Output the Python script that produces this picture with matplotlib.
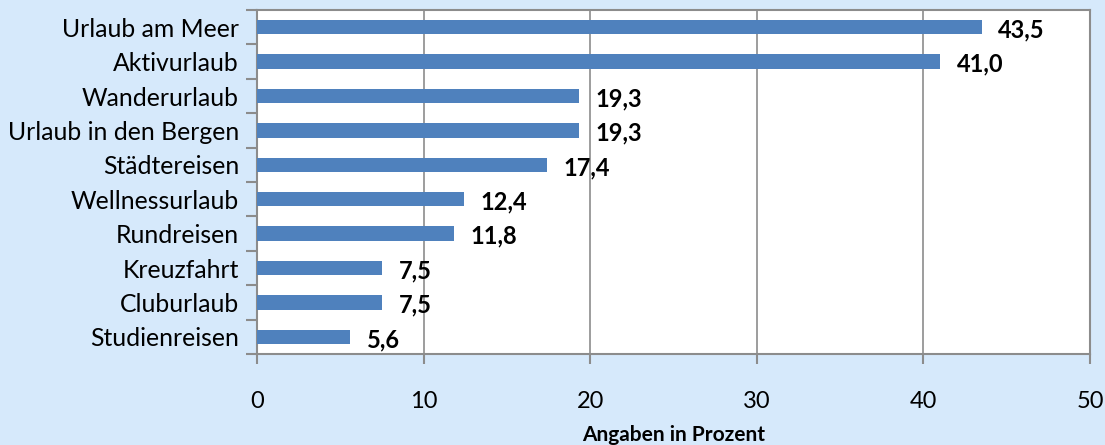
import matplotlib.pyplot as plt
import numpy as np

categories = ["Urlaub am Meer", "Aktivurlaub", "Wanderurlaub", "Urlaub in den Bergen",
              "Städtereisen", "Wellnessurlaub", "Rundreisen", "Kreuzfahrt",
              "Cluburlaub", "Studienreisen"]
values = [43.5, 41.0, 19.3, 19.3, 17.4, 12.4, 11.8, 7.5, 7.5, 5.6]

bg = "#d6e9fb"
bar_color = "#4f81bd"
grey = "#8c8c8c"

plt.rcParams['font.family'] = ['Lato', 'DejaVu Sans']

fig = plt.figure(figsize=(11.05, 4.45), dpi=100, facecolor=bg)
ax = fig.add_axes([257 / 1105, 1 - 354 / 445, (1090 - 257) / 1105, (354 - 10) / 445])
ax.set_facecolor("white")

y = np.arange(len(categories))
ax.barh(y, values, height=0.42, color=bar_color, zorder=3)
ax.set_ylim(len(categories) - 0.5, -0.5)
ax.set_xlim(0, 50)

for yi, v in zip(y, values):
    ax.text(v + 1.0, yi + 0.08, f"{v:.1f}".replace(".", ","), va="center", ha="left",
            fontsize=17, fontweight="bold", color="black", zorder=4)

ax.set_yticks(y)
ax.set_yticklabels(categories, fontsize=17.8)
ax.tick_params(axis="y", which="major", length=0, pad=13)
ax.set_yticks(np.arange(-0.5, len(categories), 1), minor=True)
ax.tick_params(axis="y", which="minor", length=8, color=grey, width=1.5)

ax.set_xticks(np.arange(0, 51, 10))
ax.tick_params(axis="x", length=7, color=grey, width=1.5, labelsize=17, pad=20)
ax.xaxis.grid(True, color=grey, linewidth=1.2, zorder=0)
ax.set_axisbelow(True)

for s in ax.spines.values():
    s.set_color(grey)
    s.set_linewidth(1.5)

ax.set_xlabel("Angaben in Prozent", fontsize=15, fontweight="bold", labelpad=9)

fig.savefig("out.png", dpi=100, facecolor=bg)
